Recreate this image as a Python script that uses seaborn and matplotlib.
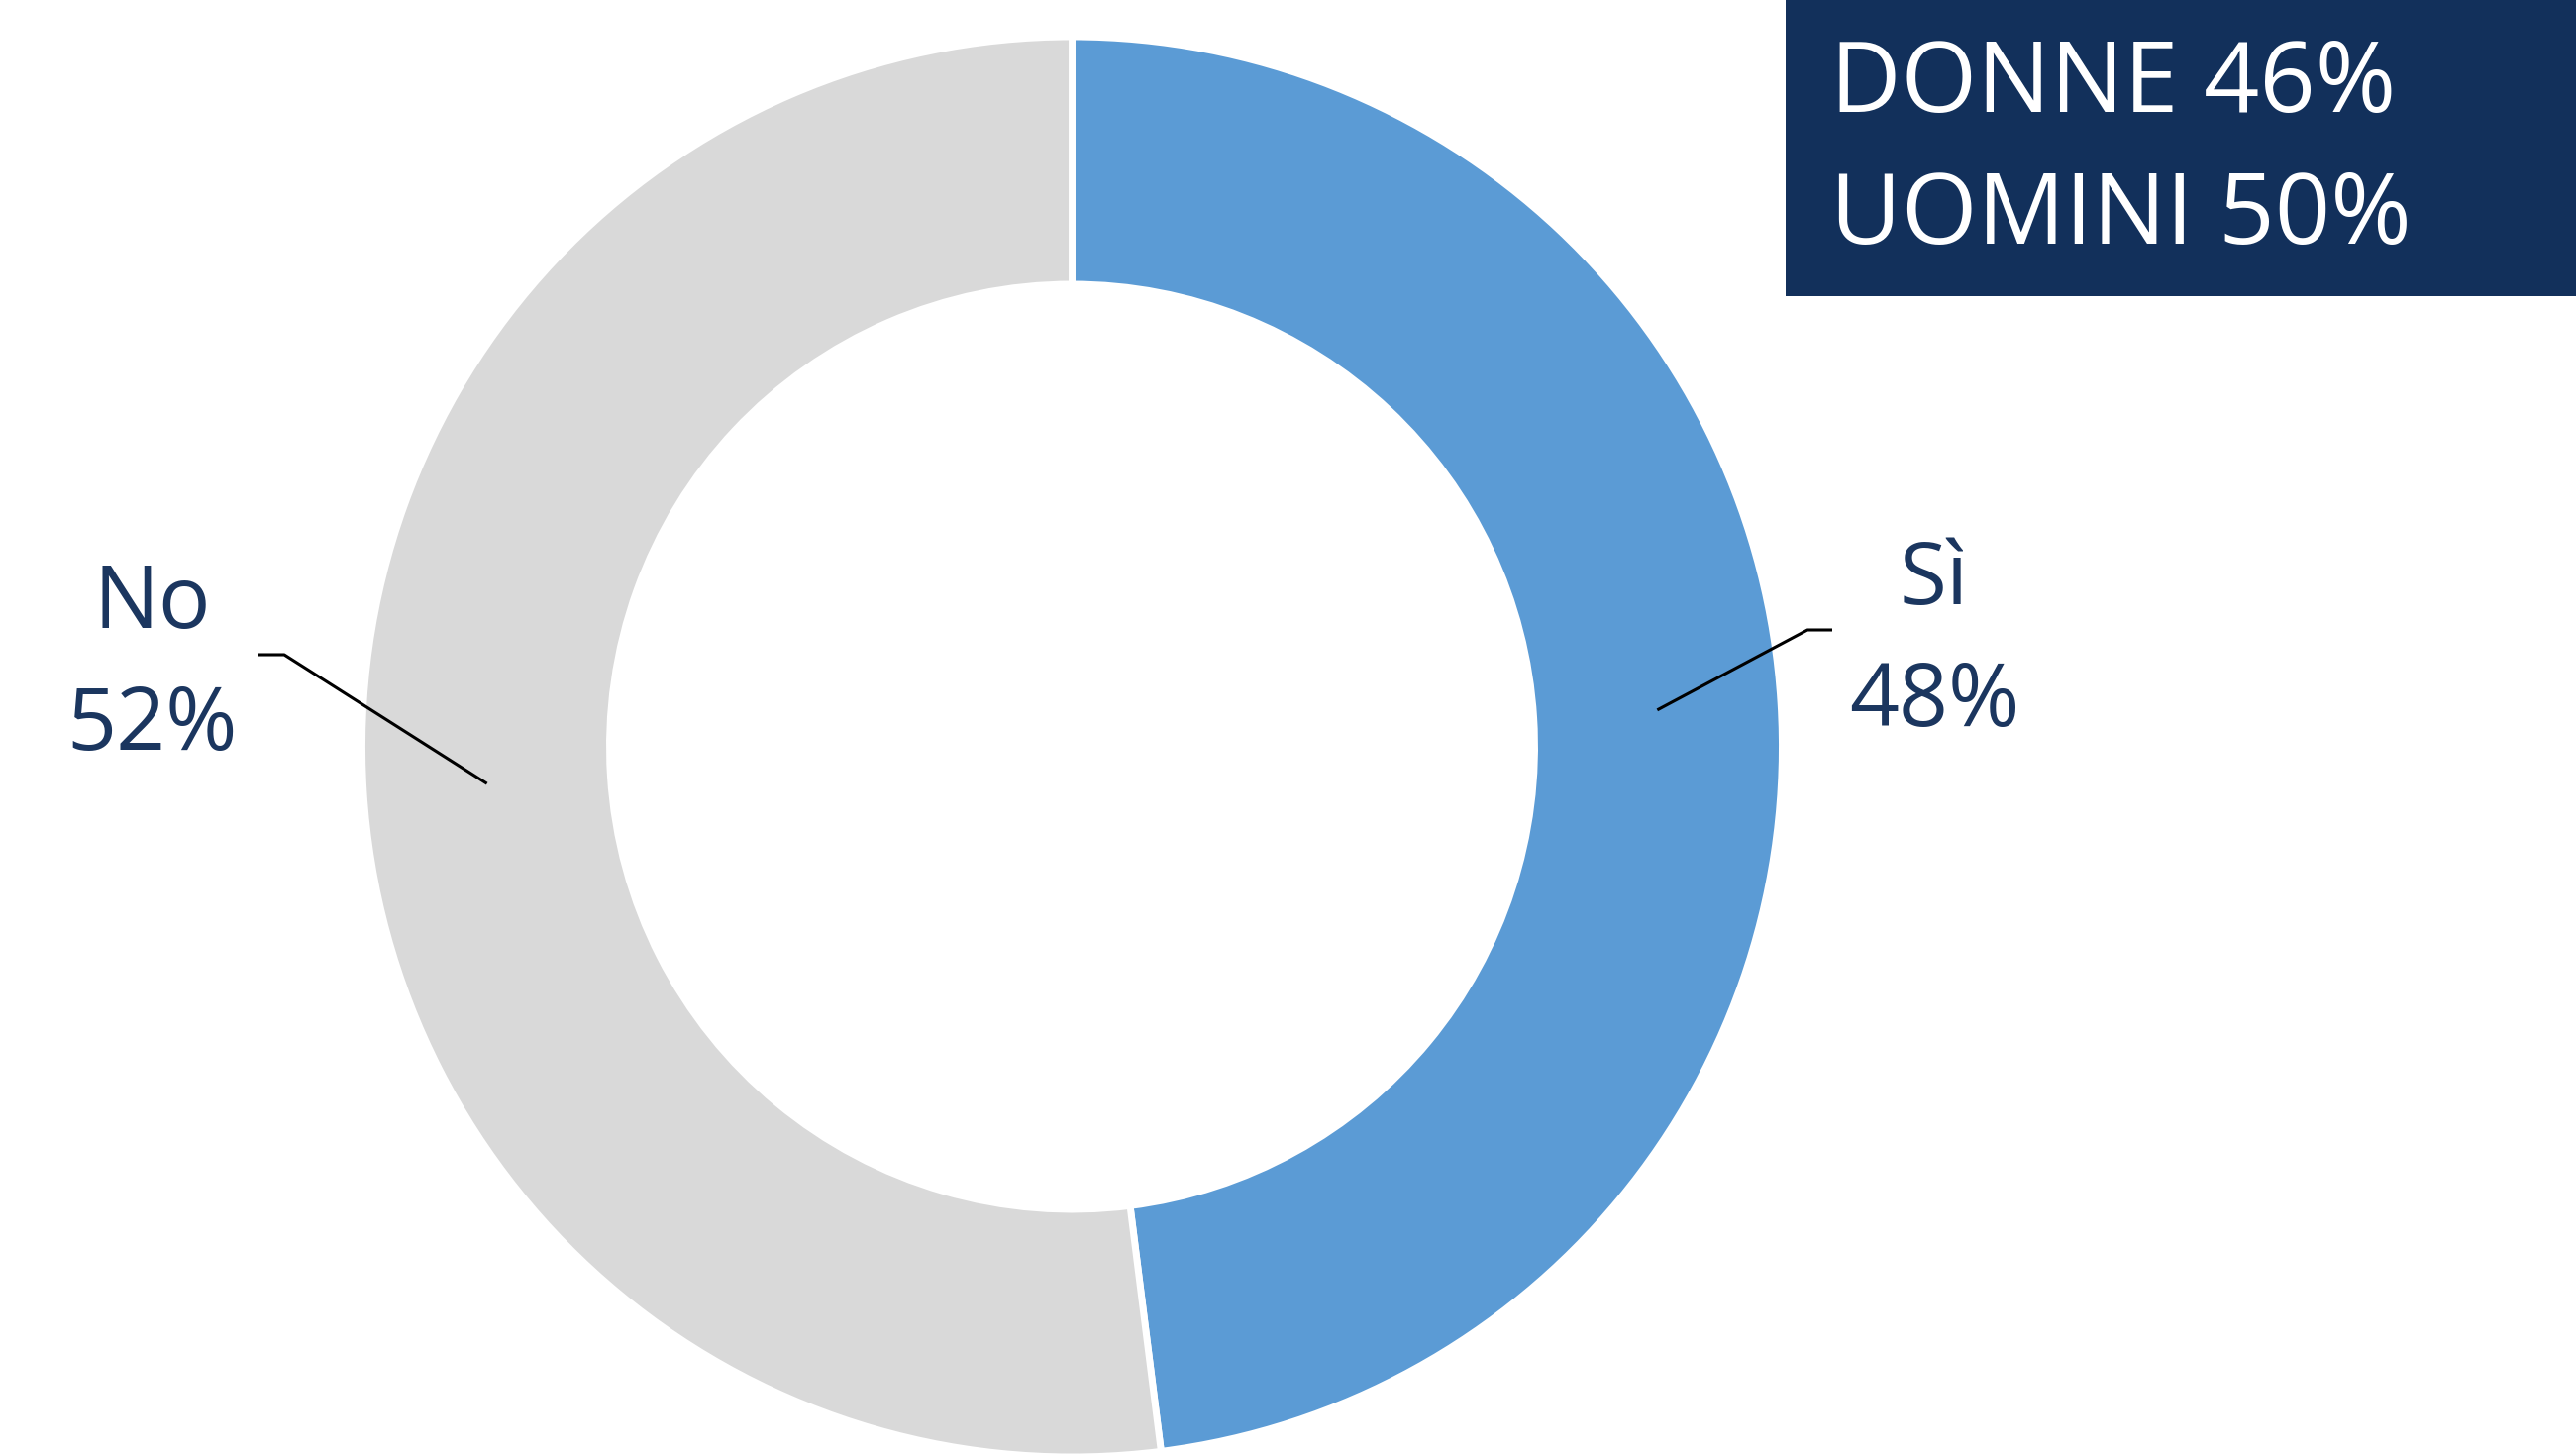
import numpy as np
import matplotlib
matplotlib.use("Agg")
import matplotlib.pyplot as plt
import seaborn as sns
from matplotlib.patches import Rectangle

# dati
labels = ["Sì", "No"]
values = [48, 52]
colors = ["#5B9BD5", "#D9D9D9"]
box_lines = ["DONNE 46%", "UOMINI 50%"]

sns.set_style("white")
plt.rcParams["font.family"] = ["Open Sans", "DejaVu Sans"]

W, H = 2601, 1469
fig = plt.figure(figsize=(W / 100, H / 100), dpi=100)
ax = fig.add_axes([0, 0, 1, 1])

cx, cy = 1082.5, H - 754
R, r_in = 717, 467

wedges, _ = ax.pie(values, colors=colors, startangle=90, counterclock=False,
                   center=(cx, cy), radius=R,
                   wedgeprops=dict(width=R - r_in, edgecolor="white", linewidth=5))
ax.set_xlim(0, W)
ax.set_ylim(0, H)
ax.set_aspect("equal")
ax.axis("off")

txt_col = "#1B365F"
# posizioni etichette (layout)
lab_pos = {"Sì": (1953, H - 587, H - 710), "No": (154, H - 611, H - 734)}
elbow = {"Sì": ((1825, H - 636), (1850, H - 636)), "No": ((287, H - 661), (260, H - 661))}

for w, lab, v in zip(wedges, labels, values):
    ang = np.deg2rad((w.theta1 + w.theta2) / 2)
    rm = (R + r_in) / 2
    sx, sy = cx + rm * np.cos(ang), cy + rm * np.sin(ang)
    (ex, ey), (fx, fy) = elbow[lab]
    ax.plot([sx, ex, fx], [sy, ey, fy], color="black", lw=2.2, solid_capstyle="butt")
    x, y1, y2 = lab_pos[lab]
    ax.text(x, y1, lab, ha="center", va="center", fontsize=63, color=txt_col)
    ax.text(x, y2, f"{v}%", ha="center", va="center", fontsize=63, color=txt_col)

ax.add_patch(Rectangle((1803, H - 299), W - 1803, 299, facecolor="#12305B",
                       edgecolor="none", zorder=5))
for i, t in enumerate(box_lines):
    ax.text(1848, H - 113 - 133 * i, t, ha="left", va="baseline", fontsize=71,
            color="white", zorder=6)

fig.savefig("out.png", dpi=100, facecolor="white")
